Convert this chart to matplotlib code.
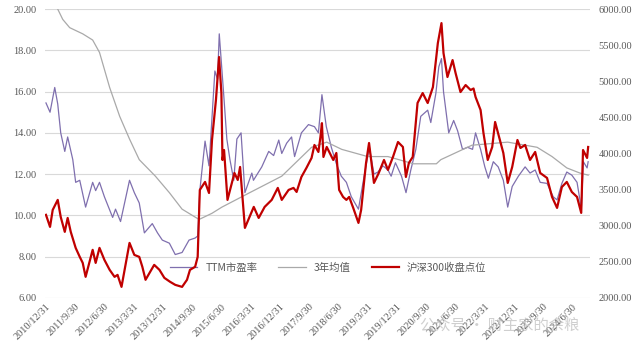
import pandas as pd
import matplotlib
matplotlib.use("Agg")
import matplotlib.pyplot as plt

plt.rcParams['font.family'] = ['Noto Sans CJK SC', 'DejaVu Sans']

# TTM PE (left axis)
pe_dates = ["2010-12-31", "2011-02-07", "2011-03-23", "2011-04-20", "2011-05-18", "2011-06-25",
            "2011-07-22", "2011-09-08", "2011-10-05", "2011-11-12", "2012-01-06", "2012-03-12",
            "2012-04-09", "2012-05-15", "2012-06-30", "2012-09-15", "2012-10-12", "2012-11-28",
            "2013-02-20", "2013-04-06", "2013-05-22", "2013-07-09", "2013-09-21", "2013-11-09",
            "2013-12-24", "2014-02-28", "2014-04-24", "2014-06-27", "2014-08-31", "2014-10-27",
            "2014-11-20", "2014-12-10", "2015-01-28", "2015-03-06", "2015-04-30", "2015-05-25",
            "2015-06-10", "2015-07-21", "2015-08-20", "2015-09-18", "2015-10-24", "2015-11-22",
            "2015-12-31", "2016-02-05", "2016-04-10", "2016-04-25", "2016-07-12", "2016-09-15",
            "2016-10-31", "2016-12-18", "2017-01-15", "2017-03-02", "2017-04-17", "2017-05-15",
            "2017-07-18", "2017-09-22", "2017-11-17", "2017-12-24", "2018-01-26", "2018-03-08",
            "2018-04-24", "2018-06-10", "2018-07-26", "2018-09-12", "2018-10-28", "2019-01-03",
            "2019-02-25", "2019-04-15", "2019-05-28", "2019-07-04", "2019-08-20", "2019-10-06",
            "2019-11-05", "2019-12-15", "2020-02-10", "2020-03-23", "2020-05-07", "2020-06-23",
            "2020-08-08", "2020-10-12", "2020-11-10", "2020-12-27", "2021-01-24", "2021-02-18",
            "2021-03-09", "2021-04-27", "2021-06-12", "2021-07-19", "2021-09-03", "2021-10-20",
            "2021-12-06", "2022-01-03", "2022-02-19", "2022-03-31", "2022-05-03", "2022-06-18",
            "2022-08-03", "2022-09-20", "2022-10-31", "2022-12-12", "2023-02-08", "2023-04-12",
            "2023-05-28", "2023-07-15", "2023-08-31", "2023-11-03", "2023-12-31", "2024-02-05",
            "2024-03-21", "2024-05-06", "2024-06-22", "2024-08-10", "2024-09-06", "2024-09-18",
            "2024-10-08", "2024-11-12", "2024-11-22"]
pe_values = [15.45, 15.0, 16.2, 15.4, 14.0, 13.1,
             13.8, 12.7, 11.6, 11.7, 10.4, 11.6,
             11.2, 11.6, 10.9, 9.9, 10.3, 9.7,
             11.7, 11.1, 10.6, 9.15, 9.6, 9.15,
             8.8, 8.65, 8.1, 8.2, 8.8, 8.9,
             9.0, 11.2, 13.6, 12.4, 17.0, 16.6,
             18.8, 15.9, 13.7, 12.7, 11.7, 13.7,
             14.0, 11.1, 12.05, 11.7, 12.35, 13.1,
             12.9, 13.65, 13.0, 13.5, 13.8, 12.85,
             14.0, 14.4, 14.3, 14.0, 15.85, 14.3,
             13.3, 12.5, 11.9, 11.6, 10.9, 10.3,
             11.9, 13.3, 12.0, 12.1, 12.4, 12.2,
             11.9, 12.55, 11.9, 11.1, 12.2, 13.2,
             14.8, 15.1, 14.5, 15.9, 17.2, 17.6,
             16.0, 14.0, 14.6, 14.1, 13.2, 13.3,
             13.2, 14.0, 13.2, 12.35, 11.8, 12.6,
             12.35, 11.7, 10.4, 11.4, 11.9, 12.35,
             12.05, 12.2, 11.6, 11.55, 10.9, 10.75,
             11.55, 12.1, 11.95, 11.6, 10.75, 10.2,
             12.6, 12.3, 12.6]

# 3-year average of PE (left axis)
avg_dates = ["2010-12-31", "2011-04-20", "2011-06-06", "2011-08-10", "2011-12-10", "2012-03-12",
             "2012-05-15", "2012-08-18", "2012-11-20", "2013-02-20", "2013-05-22", "2013-10-20",
             "2014-02-28", "2014-06-27", "2014-12-03", "2015-04-03", "2015-07-05", "2016-03-21",
             "2017-01-15", "2017-10-21", "2018-03-12", "2018-07-30", "2019-03-30", "2019-10-06",
             "2020-06-01", "2021-01-01", "2021-02-12", "2021-11-30", "2022-10-31", "2023-08-02",
             "2023-12-20", "2024-05-06", "2024-09-06", "2024-11-22"]
avg_values = [21.0, 20.0, 19.5, 19.1, 18.8, 18.5,
              17.9, 16.2, 14.8, 13.7, 12.7, 11.9,
              11.1, 10.3, 9.8, 10.1, 10.4, 11.1,
              11.9, 13.3, 13.55, 13.2, 12.85, 12.85,
              12.5, 12.5, 12.7, 13.4, 13.55, 13.3,
              12.85, 12.3, 12.05, 11.95]

# CSI 300 close (right axis)
idx_dates = ["2010-12-31", "2011-02-07", "2011-03-04", "2011-04-20", "2011-05-18", "2011-06-25",
             "2011-07-22", "2011-08-20", "2011-10-05", "2011-11-12", "2011-12-10", "2012-01-06",
             "2012-03-12", "2012-04-09", "2012-05-15", "2012-06-30", "2012-08-18", "2012-10-03",
             "2012-10-31", "2012-12-07", "2013-02-20", "2013-04-06", "2013-05-22", "2013-06-20",
             "2013-07-20", "2013-10-09", "2013-11-27", "2014-01-12", "2014-03-07", "2014-04-24",
             "2014-06-27", "2014-08-12", "2014-09-09", "2014-10-27", "2014-11-20", "2014-12-10",
             "2015-01-28", "2015-03-06", "2015-04-03", "2015-05-10", "2015-06-08", "2015-06-30",
             "2015-07-10", "2015-07-25", "2015-08-26", "2015-10-30", "2015-11-30", "2015-12-22",
             "2016-02-05", "2016-04-28", "2016-06-13", "2016-08-08", "2016-10-13", "2016-12-09",
             "2017-01-15", "2017-03-20", "2017-05-05", "2017-06-03", "2017-07-18", "2017-09-03",
             "2017-10-21", "2017-11-17", "2017-12-24", "2018-01-12", "2018-01-26", "2018-02-09",
             "2018-03-12", "2018-05-12", "2018-06-10", "2018-07-06", "2018-08-12", "2018-09-12",
             "2018-10-08", "2018-11-15", "2019-01-03", "2019-01-28", "2019-03-15", "2019-04-12",
             "2019-05-28", "2019-07-12", "2019-08-30", "2019-10-06", "2019-11-22", "2020-01-08",
             "2020-02-23", "2020-03-22", "2020-04-19", "2020-05-25", "2020-07-09", "2020-08-26",
             "2020-10-12", "2020-11-30", "2021-01-15", "2021-02-18", "2021-03-09", "2021-04-15",
             "2021-06-02", "2021-06-30", "2021-08-15", "2021-10-02", "2021-11-18", "2021-12-15",
             "2022-01-03", "2022-02-19", "2022-03-18", "2022-04-27", "2022-06-08", "2022-07-05",
             "2022-08-24", "2022-09-20", "2022-10-31", "2022-12-12", "2023-01-30", "2023-02-27",
             "2023-04-12", "2023-05-28", "2023-07-15", "2023-08-31", "2023-11-03", "2023-12-20",
             "2024-02-05", "2024-03-21", "2024-05-06", "2024-06-22", "2024-08-10", "2024-09-18",
             "2024-10-05", "2024-11-12", "2024-11-22"]
idx_values = [3150, 2983, 3218, 3357, 3121, 2914,
              3107, 2914, 2692, 2568, 2484, 2291,
              2665, 2484, 2692, 2526, 2388, 2291,
              2318, 2152, 2761, 2595, 2568, 2430,
              2250, 2457, 2388, 2277, 2222, 2180,
              2152, 2250, 2388, 2430, 2568, 3495,
              3606, 3453, 4187, 4741, 5336, 4837,
              3910, 4048, 3357, 3730, 3633, 3813,
              2969, 3260, 3107, 3260, 3357, 3523,
              3357, 3495, 3523, 3467, 3675, 3800,
              3938, 4118, 4021, 4228, 4420, 3952,
              4090, 3910, 4007, 3495, 3398, 3357,
              3398, 3246, 3038, 3218, 3869, 4145,
              3592, 3730, 3910, 3772, 3952, 4159,
              4090, 3675, 3869, 3952, 4700, 4837,
              4699, 4920, 5529, 5806, 5391, 5059,
              5294, 5114, 4851, 4948, 4879, 4900,
              4782, 4602, 4284, 3910, 4090, 4436,
              4159, 4007, 3592, 3813, 4187, 4076,
              4118, 3910, 4021, 3730, 3661, 3398,
              3246, 3536, 3606, 3467, 3398, 3177,
              4048, 3938, 4090]

tick_labels = ["2010/12/31", "2011/9/30", "2012/6/30", "2013/3/31", "2013/12/31", "2014/9/30",
               "2015/6/30", "2016/3/31", "2016/12/31", "2017/9/30", "2018/6/30", "2019/3/31",
               "2019/12/31", "2020/9/30", "2021/6/30", "2022/3/31", "2022/12/31", "2023/9/30",
               "2024/6/30"]

fig = plt.figure(figsize=(6.4, 3.5), dpi=100)
ax = fig.add_axes([0.07, 0.149, 0.852, 0.825])
ax2 = ax.twinx()

l1, = ax.plot(pd.to_datetime(pe_dates), pe_values, color="#7f6fae", lw=0.9, label="TTM市盈率")
l2, = ax.plot(pd.to_datetime(avg_dates), avg_values, color="#a9a9a9", lw=0.9, label="3年均值")
l3, = ax2.plot(pd.to_datetime(idx_dates), idx_values, color="#c00000", lw=1.6, label="沪深300收盘点位")

ax.set_ylim(6, 20)
ax.set_yticks(range(6, 21, 2))
ax.set_yticklabels([f"{v:.2f}" for v in range(6, 21, 2)])
ax2.set_ylim(2000, 6000)
ax2.set_yticks(range(2000, 6001, 500))
ax2.set_yticklabels([f"{v:.2f}" for v in range(2000, 6001, 500)])

ax.set_xlim(pd.Timestamp("2010-12-20"), pd.Timestamp("2024-12-10"))
ticks = pd.to_datetime(tick_labels, format="%Y/%m/%d")
ax.set_xticks(ticks)
ax.set_xticklabels(tick_labels, rotation=45, ha="right", rotation_mode="anchor")

ax.grid(axis="y", color="#d9d9d9", lw=0.8)
ax.set_axisbelow(True)
for a in (ax, ax2):
    for s in a.spines.values():
        s.set_visible(False)
    a.tick_params(length=0, colors="#595959", labelsize=7.5)
    for lab in a.get_xticklabels() + a.get_yticklabels():
        lab.set_family("Liberation Serif")
ax.tick_params(axis="y", pad=6)
ax2.tick_params(axis="y", pad=6)
ax.tick_params(axis="x", pad=3)

leg = ax.legend(handles=[l1, l2, l3], loc="upper center", bbox_to_anchor=(0.52, 0.155),
                ncol=3, frameon=False, fontsize=7.5, labelcolor="#595959",
                handlelength=2.6, columnspacing=2.0)

# watermark
fig.text(0.78, 0.07, "公众号 · 财主家的余粮", fontsize=11, color="#b0b0b0", alpha=0.6,
         ha="center", va="center")

fig.savefig("out.png", dpi=100)
